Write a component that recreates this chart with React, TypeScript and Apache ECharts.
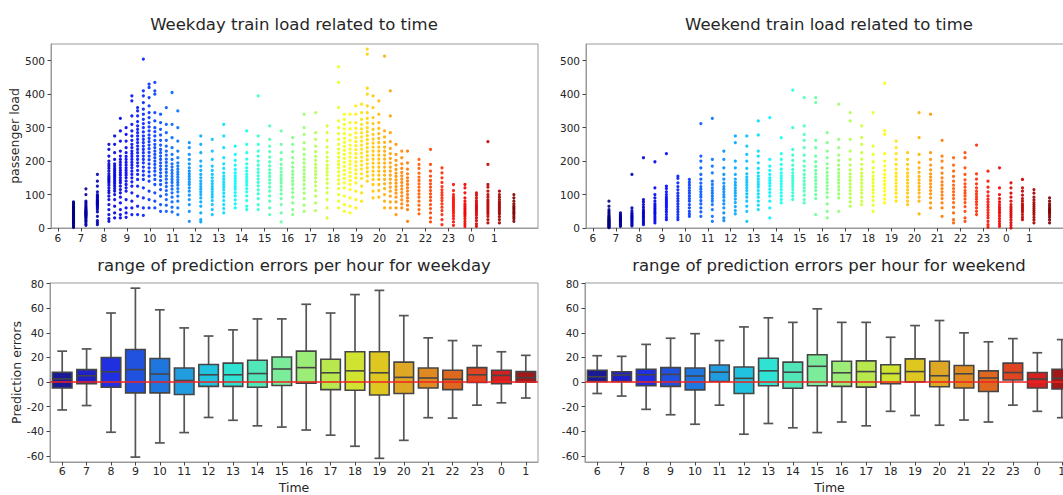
import React, { useEffect, useRef } from "react";
import * as echarts from "echarts";

const FONT = "DejaVu Sans";
const TEXT = "#262626";
const FRAME = "#9a9a9a";

// ---- axis ticks ----
const hourTicks = [6, 7, 8, 9, 10, 11, 12, 13, 14, 15, 16, 17, 18, 19, 20, 21, 22, 23, 24, 25];
const hourLabels = ["6", "7", "8", "9", "10", "11", "12", "13", "14", "15", "16", "17", "18", "19", "20", "21", "22", "23", "0", "1"];
const loadTicks = [0, 100, 200, 300, 400, 500];
const errorTicks = [-60, -40, -20, 0, 20, 40, 60, 80];

// ---- weekday train load (departure time in hours, loads per departure) ----
const weekdayTimes = [6.68, 7.22, 7.72, 8.22, 8.47, 8.72, 8.97, 9.22, 9.47, 9.72, 9.97, 10.22, 10.47, 10.72, 10.97, 11.22, 11.72, 12.22, 12.72, 13.22, 13.72, 14.22, 14.72, 15.22, 15.72, 16.22, 16.72, 17.22, 17.72, 18.22, 18.47, 18.72, 18.97, 19.22, 19.47, 19.72, 19.97, 20.22, 20.47, 20.72, 20.97, 21.22, 21.72, 22.22, 22.72, 23.22, 23.72, 24.22, 24.72, 25.22, 25.85];
const weekdayLoads = [
  [2, 5, 8, 12, 15, 18, 20, 22, 25, 28, 30, 32, 34, 36, 38, 40, 41, 43, 45, 47, 50, 52, 55, 58, 60, 63, 66, 70, 74, 78],
  [8, 12, 18, 22, 26, 30, 33, 36, 38, 40, 42, 44, 46, 48, 50, 52, 55, 58, 61, 65, 70, 75, 80, 100, 117],
  [10, 16, 22, 35, 48, 55, 60, 64, 68, 70, 72, 74, 76, 78, 80, 82, 85, 88, 92, 96, 100, 108, 125, 140, 160],
  [20, 28, 40, 55, 70, 85, 95, 105, 112, 120, 128, 135, 140, 145, 150, 155, 162, 170, 178, 185, 192, 200, 215, 235, 250],
  [30, 45, 65, 85, 100, 110, 118, 125, 132, 138, 144, 150, 155, 160, 166, 172, 178, 185, 192, 205, 225, 250, 275],
  [30, 40, 55, 75, 92, 105, 115, 125, 135, 142, 150, 158, 165, 172, 180, 188, 196, 205, 215, 230, 260, 290, 328],
  [32, 45, 60, 85, 110, 120, 130, 140, 150, 158, 165, 172, 180, 188, 196, 205, 214, 225, 240, 260, 280, 300],
  [40, 60, 80, 105, 125, 138, 150, 160, 170, 180, 188, 196, 205, 214, 222, 230, 240, 250, 262, 275, 290, 310, 335, 380, 395],
  [40, 65, 95, 125, 145, 160, 172, 185, 195, 205, 215, 225, 235, 245, 255, 265, 275, 285, 295, 305, 318, 335, 350, 360],
  [38, 60, 90, 120, 145, 158, 170, 182, 195, 205, 215, 225, 235, 245, 255, 265, 275, 287, 300, 312, 325, 340, 355, 375, 395, 410, 505],
  [60, 85, 110, 140, 155, 168, 180, 192, 204, 215, 226, 237, 248, 258, 268, 278, 290, 302, 315, 330, 345, 365, 390, 420, 430],
  [60, 80, 105, 130, 145, 158, 170, 180, 190, 200, 210, 220, 230, 240, 250, 262, 275, 288, 300, 320, 345, 400, 410, 435],
  [50, 70, 95, 115, 130, 142, 154, 165, 175, 185, 195, 205, 215, 225, 235, 248, 262, 278, 295, 315, 340],
  [50, 68, 85, 100, 112, 124, 135, 146, 156, 166, 176, 186, 196, 206, 218, 230, 245, 262, 285, 310, 360],
  [48, 62, 78, 92, 105, 116, 126, 136, 145, 154, 163, 172, 182, 192, 205, 220, 240, 270, 310, 405],
  [40, 60, 80, 95, 108, 118, 128, 136, 144, 152, 160, 168, 176, 185, 195, 210, 230, 260, 300, 350],
  [20, 50, 70, 85, 98, 110, 120, 130, 138, 146, 154, 162, 170, 180, 192, 205, 220, 240, 255],
  [18, 25, 45, 65, 78, 90, 100, 108, 116, 124, 132, 140, 150, 160, 172, 185, 200, 225, 250, 275],
  [40, 55, 70, 82, 92, 100, 108, 116, 124, 132, 140, 150, 160, 172, 185, 205, 230, 265],
  [45, 58, 70, 82, 94, 104, 114, 122, 130, 138, 146, 155, 165, 178, 192, 210, 240, 275, 310],
  [60, 72, 84, 96, 106, 116, 124, 132, 140, 148, 156, 165, 175, 188, 202, 220, 245],
  [55, 65, 82, 96, 108, 118, 128, 136, 144, 152, 160, 170, 180, 192, 206, 225, 250, 290],
  [55, 70, 88, 102, 114, 126, 136, 146, 156, 166, 176, 188, 200, 215, 230, 250, 275, 395],
  [40, 60, 80, 96, 110, 122, 134, 144, 154, 164, 174, 186, 198, 212, 228, 245, 265, 305],
  [18, 45, 70, 88, 102, 114, 124, 134, 142, 150, 158, 168, 178, 190, 205, 225, 250, 290],
  [40, 55, 75, 92, 106, 118, 130, 140, 150, 160, 170, 182, 195, 210, 228, 250, 270],
  [50, 68, 88, 104, 118, 130, 142, 152, 162, 172, 182, 194, 206, 220, 236, 255, 280, 300, 340],
  [52, 75, 95, 112, 126, 138, 150, 160, 170, 180, 190, 202, 214, 228, 245, 265, 285, 345],
  [30, 60, 85, 105, 120, 134, 146, 158, 168, 178, 188, 200, 212, 226, 242, 262, 285, 305],
  [60, 80, 100, 118, 132, 144, 156, 168, 180, 190, 200, 212, 224, 236, 250, 265, 282, 300, 320, 360, 435, 482],
  [50, 70, 95, 120, 135, 148, 160, 172, 184, 196, 208, 220, 232, 244, 256, 268, 282, 296, 310, 325, 340],
  [45, 65, 90, 115, 130, 142, 154, 166, 178, 190, 200, 212, 224, 236, 248, 262, 278, 296, 315, 340],
  [60, 85, 110, 135, 150, 162, 174, 186, 198, 210, 222, 234, 246, 258, 270, 284, 298, 315, 340, 365],
  [80, 105, 125, 148, 162, 176, 188, 200, 212, 224, 236, 248, 260, 272, 284, 296, 310, 325, 345, 370],
  [140, 155, 168, 180, 192, 204, 216, 228, 240, 252, 264, 276, 288, 300, 314, 328, 345, 365, 400, 418, 520, 535],
  [90, 110, 130, 145, 158, 170, 182, 194, 206, 218, 230, 242, 254, 266, 280, 295, 312, 330, 360, 395],
  [92, 112, 130, 145, 158, 170, 182, 194, 206, 218, 230, 242, 255, 268, 282, 298, 315, 340, 380],
  [60, 80, 100, 118, 132, 145, 158, 170, 182, 194, 206, 218, 230, 242, 256, 272, 290, 514],
  [60, 78, 95, 110, 122, 134, 146, 158, 170, 182, 195, 208, 222, 238, 258, 285, 335, 410],
  [40, 60, 78, 92, 104, 114, 124, 134, 144, 154, 164, 175, 188, 202, 220, 250],
  [60, 72, 84, 95, 106, 116, 126, 136, 146, 156, 166, 178, 192, 210, 230],
  [20, 55, 68, 80, 90, 100, 110, 120, 130, 140, 150, 162, 176, 195, 230],
  [42, 55, 68, 80, 92, 102, 112, 122, 132, 142, 152, 164, 178, 190, 205],
  [18, 30, 45, 58, 70, 82, 92, 102, 112, 122, 132, 142, 155, 170, 190, 235],
  [10, 25, 40, 52, 62, 72, 82, 90, 98, 106, 114, 124, 136, 150, 165, 180],
  [8, 18, 28, 36, 44, 50, 56, 62, 68, 74, 80, 86, 92, 100, 112, 130],
  [5, 12, 20, 28, 35, 40, 45, 50, 55, 60, 66, 72, 80, 90, 105, 120, 130],
  [5, 12, 22, 30, 38, 44, 50, 55, 60, 65, 70, 76, 82, 90, 98, 105],
  [15, 25, 35, 42, 48, 54, 60, 66, 72, 78, 84, 92, 100, 110, 122, 130, 190, 258],
  [15, 25, 34, 42, 48, 54, 60, 66, 72, 78, 85, 92, 100, 110],
  [20, 28, 34, 40, 45, 50, 55, 60, 65, 72, 80, 90, 100],
];

// ---- weekend train load ----
const weekendTimes = [6.7, 7.2, 7.7, 8.2, 8.7, 9.2, 9.7, 10.2, 10.7, 11.2, 11.7, 12.2, 12.7, 13.2, 13.7, 14.2, 14.7, 15.2, 15.7, 16.2, 16.7, 17.2, 17.7, 18.2, 18.7, 19.2, 19.7, 20.2, 20.7, 21.2, 21.7, 22.2, 22.7, 23.2, 23.7, 24.2, 24.7, 25.2, 25.88];
const weekendLoads = [
  [1, 3, 5, 7, 9, 11, 13, 15, 17, 19, 21, 23, 25, 27, 30, 33, 36, 40, 45, 50, 55, 65, 80],
  [5, 8, 11, 14, 17, 20, 22, 24, 26, 28, 30, 33, 36, 40, 45],
  [6, 10, 14, 18, 22, 26, 29, 32, 35, 38, 42, 46, 52, 60, 160],
  [10, 15, 20, 25, 30, 34, 38, 42, 46, 50, 55, 62, 70, 78, 85, 210],
  [15, 22, 28, 34, 40, 45, 50, 55, 60, 66, 72, 80, 90, 100, 120, 198],
  [25, 32, 40, 48, 55, 62, 68, 74, 80, 86, 92, 100, 108, 118, 125, 222],
  [25, 32, 40, 48, 56, 64, 72, 80, 88, 96, 104, 114, 124, 135, 148, 155],
  [35, 42, 50, 60, 70, 80, 88, 96, 104, 112, 120, 128, 136, 145],
  [35, 48, 60, 72, 82, 92, 100, 108, 116, 124, 134, 146, 160, 180, 200, 215, 312],
  [20, 35, 55, 70, 80, 88, 96, 104, 112, 120, 130, 140, 165, 185, 205, 328],
  [22, 30, 45, 60, 72, 82, 92, 100, 108, 116, 124, 134, 146, 160, 180, 205, 230],
  [42, 52, 64, 76, 86, 96, 104, 112, 120, 128, 136, 146, 160, 180, 200, 255, 275],
  [20, 50, 65, 80, 92, 102, 112, 120, 128, 136, 144, 152, 162, 178, 200, 220, 245, 275],
  [55, 68, 80, 92, 102, 112, 122, 130, 138, 146, 155, 165, 178, 195, 215, 230, 278, 320],
  [30, 60, 80, 95, 106, 116, 126, 134, 142, 150, 160, 172, 185, 205, 330],
  [75, 85, 95, 105, 115, 124, 132, 140, 148, 156, 165, 176, 190, 205, 222, 270],
  [85, 95, 105, 115, 124, 132, 140, 148, 156, 165, 175, 188, 202, 218, 235, 300, 412],
  [75, 85, 98, 110, 120, 130, 140, 150, 160, 172, 185, 200, 218, 240, 262, 280, 305, 390],
  [40, 88, 100, 112, 122, 132, 142, 152, 162, 172, 184, 198, 215, 240, 262, 375, 390],
  [30, 50, 72, 92, 105, 116, 126, 136, 146, 156, 166, 178, 192, 210, 230, 255, 285],
  [50, 90, 102, 114, 124, 134, 144, 154, 164, 175, 188, 202, 218, 240, 265, 370],
  [65, 78, 90, 102, 112, 122, 132, 142, 152, 162, 174, 188, 205, 230, 265, 320, 345],
  [70, 80, 92, 104, 114, 124, 134, 144, 154, 164, 176, 190, 206, 225, 250, 270, 305],
  [50, 68, 82, 94, 105, 115, 125, 135, 145, 155, 166, 180, 198, 220, 245, 345],
  [75, 86, 98, 110, 120, 130, 140, 150, 160, 172, 186, 200, 222, 280, 290, 432],
  [80, 92, 104, 114, 124, 134, 144, 154, 164, 176, 190, 205, 222, 240, 260],
  [70, 80, 92, 104, 114, 124, 134, 144, 154, 164, 176, 190, 205, 225],
  [42, 80, 92, 104, 114, 124, 134, 144, 154, 166, 180, 196, 220, 270, 345],
  [60, 75, 90, 102, 112, 122, 132, 142, 152, 162, 174, 188, 205, 225, 340],
  [35, 60, 75, 88, 98, 108, 118, 128, 138, 150, 164, 180, 200, 215, 262],
  [15, 25, 45, 62, 76, 88, 98, 108, 118, 128, 140, 154, 170, 188, 210],
  [20, 30, 50, 64, 76, 86, 96, 104, 112, 122, 132, 144, 160, 180, 210, 225],
  [40, 50, 60, 70, 78, 86, 94, 102, 110, 120, 132, 146, 162, 248],
  [2, 10, 20, 30, 38, 46, 54, 62, 70, 78, 86, 96, 108, 122, 140, 170],
  [5, 12, 20, 28, 36, 44, 50, 56, 62, 70, 78, 88, 100, 120, 180],
  [0, 8, 16, 24, 32, 38, 44, 50, 56, 62, 70, 80, 92, 104, 120, 135],
  [25, 32, 40, 48, 54, 60, 66, 72, 80, 88, 98, 110, 120, 145],
  [15, 24, 32, 40, 46, 52, 58, 64, 70, 76, 84, 92, 104, 115],
  [15, 24, 32, 38, 44, 48, 52, 56, 60, 66, 72, 80, 90],
];

// ---- prediction error boxes per hour: [min, q1, median, q3, max] ----
const weekdayBox = [
  [-22.7, -4.9, 2.5, 8.0, 25.1],
  [-19.1, -1.4, 5.1, 10.1, 26.9],
  [-40.8, -4.3, 8.3, 19.9, 56.1],
  [-61, -8.8, 10.1, 26.4, 76.3],
  [-49.5, -8.8, 6.5, 19.1, 58.7],
  [-41.1, -10.1, 1.2, 11.4, 44],
  [-28.8, -3.5, 5.9, 14.3, 37.4],
  [-31.1, -3.5, 5.9, 15.4, 42.4],
  [-35.6, -4.3, 6.9, 17.7, 51.3],
  [-36.6, -2.8, 10.6, 20.4, 51.3],
  [-39, -0.9, 11.7, 25.1, 63.2],
  [-43.2, -6.2, 7.5, 18.5, 56.1],
  [-52.2, -6.7, 9.1, 24.6, 71.1],
  [-62, -10.6, 7.5, 24.6, 74.5],
  [-47.4, -9.3, 3.8, 16.2, 54],
  [-29, -4.9, 3.3, 11.4, 35.9],
  [-29.3, -6.2, 2.2, 9.6, 33.7],
  [-18.8, -0.4, 5.9, 11.7, 29.6],
  [-16.9, -1.4, 5.4, 9.6, 24.6],
  [-13, -0.2, 3.5, 8.5, 21.7],
];
const weekendBox = [
  [-9.3, 0.4, 4.3, 9.6, 21.4],
  [-11.4, 0.4, 5.7, 8.3, 20.9],
  [-22.2, -3, 5.9, 10.4, 30.6],
  [-26.6, -3.5, 6.2, 11.7, 35.6],
  [-34.3, -6.4, 4.9, 11.4, 39.3],
  [-18.8, 0.4, 8, 13.8, 33.7],
  [-42.4, -9.3, 3, 12.2, 44.8],
  [-33.7, -3, 9.1, 19.3, 52.2],
  [-37.2, -5.1, 8, 16.2, 48.5],
  [-41.1, -3, 12.8, 22.2, 59.5],
  [-32.5, -3.5, 7.5, 16.9, 48.5],
  [-35.6, -4.1, 8.5, 17.2, 48.5],
  [-23.8, -1.4, 6.9, 14, 36.4],
  [-27.2, 0.1, 8.5, 18.8, 45.9],
  [-35.1, -3.8, 5.1, 16.9, 50],
  [-30.9, -4.9, 6.7, 13.5, 40],
  [-32.5, -7.7, 3.3, 9.1, 32.7],
  [-18.8, 1.7, 7.7, 15.4, 35.3],
  [-23.8, -4.9, 2.5, 7.7, 23.8],
  [-29, -5.7, 3, 10.4, 34.5],
];

const boxColors = ["#1a1a96", "#2020c8", "#2030e0", "#2052df", "#2076df", "#209cdf", "#20c2df", "#2ee2d4", "#50e6b8", "#7aec9a", "#9cec78", "#b8e84e", "#cfe330", "#dfc722", "#dfa824", "#df8a20", "#df6820", "#df4520", "#d42020", "#a01818"];
const jetStops = ["#000080", "#0000ff", "#0080ff", "#00ffff", "#80ff80", "#ffff00", "#ff8000", "#ff0000", "#800000"];

const txt = (size: number) => ({ fontFamily: FONT, fontSize: size, color: TEXT });

function scatterData(times: number[], loads: number[][]) {
  return times.flatMap((t, i) => loads[i].map((v) => [t, v]));
}

function boxData(rows: number[][]) {
  return rows.map((r, i) => [i, ...r]);
}

function renderBox(params: any, api: any) {
  const idx = api.value(0);
  const lo = api.coord([idx, api.value(1)]);
  const q1 = api.coord([idx, api.value(2)]);
  const md = api.coord([idx, api.value(3)]);
  const q3 = api.coord([idx, api.value(4)]);
  const hi = api.coord([idx, api.value(5)]);
  const band = api.size([1, 0])[0];
  const half = band * 0.4;
  const cap = band * 0.2;
  const x = lo[0];
  const stroke = "#454545";
  const ls = { stroke: "#555555", lineWidth: 1.7 };
  return {
    type: "group",
    children: [
      { type: "line", shape: { x1: x, y1: q3[1], x2: x, y2: hi[1] }, style: ls },
      { type: "line", shape: { x1: x, y1: q1[1], x2: x, y2: lo[1] }, style: ls },
      { type: "line", shape: { x1: x - cap, y1: hi[1], x2: x + cap, y2: hi[1] }, style: ls },
      { type: "line", shape: { x1: x - cap, y1: lo[1], x2: x + cap, y2: lo[1] }, style: ls },
      {
        type: "rect",
        shape: { x: x - half, y: q3[1], width: half * 2, height: q1[1] - q3[1] },
        style: { fill: boxColors[idx], stroke, lineWidth: 1.6 },
      },
      { type: "line", shape: { x1: x - half, y1: md[1], x2: x + half, y2: md[1] }, style: { stroke, lineWidth: 1.6 } },
    ],
  };
}

function timeXAxis(gridIndex: number) {
  return {
    type: "value",
    gridIndex,
    min: 5.7,
    max: 26.9,
    axisLine: { show: true, onZero: false, lineStyle: { color: FRAME } },
    axisTick: { show: true, length: 3.5, customValues: hourTicks, lineStyle: { color: "#444" } },
    axisLabel: { ...txt(10.5), margin: 4, customValues: hourTicks, formatter: (v: number) => String(Math.round(v) % 24) },
    splitLine: { show: false },
  };
}

function loadYAxis(gridIndex: number, name: string) {
  return {
    type: "value",
    gridIndex,
    min: 0,
    max: 550,
    name,
    nameLocation: "middle",
    nameGap: 29,
    nameTextStyle: txt(12.5),
    axisLine: { show: true, onZero: false, lineStyle: { color: FRAME } },
    axisTick: { show: true, length: 3.5, customValues: loadTicks, lineStyle: { color: "#444" } },
    axisLabel: { ...txt(10.5), margin: 6, customValues: loadTicks },
    splitLine: { show: false },
  };
}

function hourCatAxis(gridIndex: number) {
  return {
    type: "category",
    gridIndex,
    data: hourLabels,
    name: "Time",
    nameLocation: "middle",
    nameGap: 19,
    nameTextStyle: txt(12.5),
    axisLine: { show: true, onZero: false, lineStyle: { color: FRAME } },
    axisTick: { show: true, length: 3.5, alignWithLabel: true, lineStyle: { color: "#444" } },
    axisLabel: { ...txt(11), margin: 4, interval: 0 },
    splitLine: { show: false },
  };
}

function errorYAxis(gridIndex: number, name: string) {
  return {
    type: "value",
    gridIndex,
    min: -65,
    max: 80.5,
    name,
    nameLocation: "middle",
    nameGap: 27,
    nameTextStyle: txt(12.5),
    axisLine: { show: true, onZero: false, lineStyle: { color: FRAME } },
    axisTick: { show: true, length: 3.5, customValues: errorTicks, lineStyle: { color: "#444" } },
    axisLabel: { ...txt(10.5), margin: 6, customValues: errorTicks },
    splitLine: { show: false },
  };
}

const gridBase = { show: true, borderColor: FRAME, borderWidth: 1, backgroundColor: "transparent" };

function title(text: string, x: number, y: number) {
  return {
    type: "text",
    x,
    y,
    silent: true,
    style: { text, fontFamily: FONT, fontSize: 16.5, fill: TEXT, align: "center", verticalAlign: "middle" },
  };
}

function scatterSeries(idx: number, data: number[][]) {
  return {
    type: "scatter",
    xAxisIndex: idx,
    yAxisIndex: idx,
    data,
    symbol: "circle",
    symbolSize: 3.2,
    silent: true,
    itemStyle: { opacity: 0.9 },
  };
}

function boxSeries(idx: number, rows: number[][]) {
  return {
    type: "custom",
    xAxisIndex: idx,
    yAxisIndex: idx,
    data: boxData(rows),
    encode: { x: 0, y: [1, 2, 3, 4, 5] },
    renderItem: renderBox,
    silent: true,
    markLine: {
      silent: true,
      symbol: "none",
      label: { show: false },
      lineStyle: { color: "#f02020", width: 1.6, type: "solid" },
      data: [{ yAxis: 0 }],
      z: 10,
    },
  };
}

export default function App() {
  const ref = useRef<HTMLDivElement>(null);
  useEffect(() => {
    if (!ref.current) return;
    const chart = echarts.init(ref.current, undefined, { renderer: "svg" });
    chart.setOption({
      animation: false,
      backgroundColor: "#ffffff",
      grid: [
        { ...gridBase, left: 51, top: 44, width: 487, height: 184 },
        { ...gridBase, left: 586, top: 44, width: 487, height: 184 },
        { ...gridBase, left: 50, top: 283, width: 488, height: 184 },
        { ...gridBase, left: 585, top: 283, width: 489, height: 184 },
      ],
      xAxis: [timeXAxis(0), timeXAxis(1), hourCatAxis(2), hourCatAxis(3)],
      yAxis: [
        loadYAxis(0, "passenger load"),
        loadYAxis(1, ""),
        errorYAxis(2, "Prediction errors"),
        errorYAxis(3, ""),
      ],
      visualMap: [
        { type: "continuous", show: false, seriesIndex: 0, dimension: 0, min: 6.68, max: 25.85, inRange: { color: jetStops } },
        { type: "continuous", show: false, seriesIndex: 1, dimension: 0, min: 6.7, max: 25.88, inRange: { color: jetStops } },
      ],
      graphic: [
        title("Weekday train load related to time", 294, 24),
        title("Weekend train load related to time", 829, 24),
        title("range of prediction errors per hour for weekday", 294, 265),
        title("range of prediction errors per hour for weekend", 829, 265),
      ],
      series: [
        scatterSeries(0, scatterData(weekdayTimes, weekdayLoads)),
        scatterSeries(1, scatterData(weekendTimes, weekendLoads)),
        boxSeries(2, weekdayBox),
        boxSeries(3, weekendBox),
      ],
    });
    return () => chart.dispose();
  }, []);
  return <div ref={ref} style={{ position: "fixed", left: 0, top: 0, width: 1075, height: 495 }} />;
}
